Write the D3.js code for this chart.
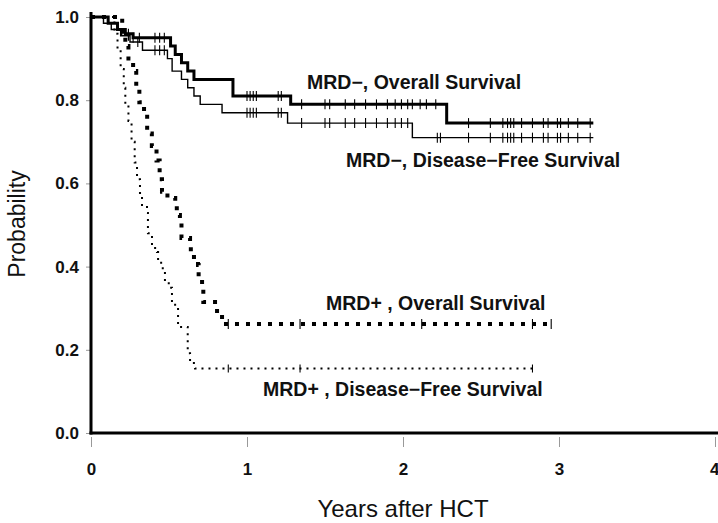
<!DOCTYPE html>
<html>
<head>
<meta charset="utf-8">
<script src="https://cdn.jsdelivr.net/npm/d3@7"></script>
<style>
  body { margin: 0; background: #fff; }
  svg { display: block; font-family: "Liberation Sans", Arial, Helvetica, sans-serif; }
</style>
</head>
<body>
<div id="chart"></div>
<script>
const width = 718;
const height = 523;

// Kaplan-Meier step curves: event times (years) and survival after each step
const negOsTimes = [0, 0.11, 0.17, 0.22, 0.27, 0.51, 0.54, 0.58, 0.62, 0.66, 0.91, 1.28, 2.28];
const negOsSurv  = [1.0, 0.985, 0.97, 0.96, 0.95, 0.93, 0.91, 0.89, 0.87, 0.85, 0.81, 0.79, 0.745];
const negOsEnd = 3.22;
const negOsCensor = [0.24, 0.27, 0.31, 0.41, 0.44, 0.47, 1.00, 1.02, 1.04, 1.06, 1.20, 1.22, 1.35, 1.50, 1.53,
  1.63, 1.69, 1.76, 1.83, 1.90, 1.95, 1.99, 2.03, 2.06, 2.11, 2.15, 2.21, 2.42, 2.56, 2.64, 2.67, 2.69,
  2.71, 2.76, 2.83, 2.90, 2.93, 2.99, 3.01, 3.06, 3.12, 3.20];

const negDfsTimes = [0, 0.08, 0.13, 0.19, 0.25, 0.33, 0.49, 0.52, 0.58, 0.62, 0.66, 0.70, 0.84, 1.26, 2.06];
const negDfsSurv  = [1.0, 0.985, 0.97, 0.955, 0.94, 0.92, 0.90, 0.87, 0.85, 0.83, 0.81, 0.79, 0.77, 0.745, 0.71];
const negDfsEnd = 3.22;
const negDfsCensor = [0.24, 0.30, 0.41, 0.44, 0.47, 1.00, 1.02, 1.04, 1.06, 1.20, 1.22, 1.35, 1.50, 1.53,
  1.63, 1.69, 1.76, 1.83, 1.90, 1.95, 1.99, 2.03, 2.22, 2.24, 2.42, 2.56, 2.64, 2.67, 2.69,
  2.71, 2.76, 2.83, 2.90, 2.93, 2.99, 3.01, 3.06, 3.12, 3.20];

const posOsTimes = [0, 0.20, 0.22, 0.24, 0.27, 0.29, 0.31, 0.34, 0.36, 0.39, 0.42, 0.44, 0.455, 0.49, 0.54,
  0.55, 0.57, 0.58, 0.635, 0.64, 0.686, 0.69, 0.712, 0.72, 0.808, 0.84];
const posOsSurv  = [1.0, 0.96, 0.93, 0.90, 0.87, 0.83, 0.795, 0.76, 0.72, 0.69, 0.655, 0.61, 0.58, 0.565, 0.548,
  0.524, 0.505, 0.469, 0.457, 0.423, 0.404, 0.373, 0.349, 0.315, 0.288, 0.262];
const posOsEnd = 2.96;
const posOsCensor = [0.88, 1.34, 2.12, 2.83, 2.95];

const posDfsTimes = [0, 0.15, 0.17, 0.19, 0.21, 0.22, 0.24, 0.26, 0.28, 0.295, 0.314, 0.327, 0.359, 0.365,
  0.391, 0.423, 0.43, 0.46, 0.474, 0.506, 0.519, 0.558, 0.62, 0.635, 0.667];
const posDfsSurv  = [1.0, 0.96, 0.92, 0.875, 0.83, 0.79, 0.75, 0.70, 0.65, 0.61, 0.577, 0.548, 0.529, 0.48,
  0.445, 0.435, 0.409, 0.392, 0.36, 0.349, 0.308, 0.255, 0.192, 0.168, 0.155];
const posDfsEnd = 2.83;
const posDfsCensor = [0.88, 1.34, 2.83];

const xTicks = [0, 1, 2, 3, 4];
const yTicks = [0, 0.2, 0.4, 0.6, 0.8, 1.0];

const curves = [
  { times: negDfsTimes, surv: negDfsSurv, end: negDfsEnd, censor: negDfsCensor, width: 1.4, dash: null, tick: 5 },
  { times: negOsTimes, surv: negOsSurv, end: negOsEnd, censor: negOsCensor, width: 3, dash: null, tick: 5 },
  { times: posDfsTimes, surv: posDfsSurv, end: posDfsEnd, censor: posDfsCensor, width: 2, dash: "2,5", tick: 4 },
  { times: posOsTimes, surv: posOsSurv, end: posOsEnd, censor: posOsCensor, width: 4, dash: "4,7", tick: 5 }
];

const labels = [
  { text: "MRD\u2212, Overall Survival", x: 307, y: 89 },
  { text: "MRD\u2212, Disease\u2212Free Survival", x: 346, y: 167 },
  { text: "MRD+ , Overall Survival", x: 326, y: 310 },
  { text: "MRD+ , Disease\u2212Free Survival", x: 263, y: 396 }
];

const x = d3.scaleLinear().domain([0, 4]).range([91, 715]);
const y = d3.scaleLinear().domain([0, 1]).range([433, 17]);

const svg = d3.select("#chart").append("svg")
    .attr("width", width)
    .attr("height", height);

// axes
const xAxis = svg.append("g")
    .attr("transform", "translate(0," + y(0) + ")")
    .call(d3.axisBottom(x).tickValues(xTicks).tickFormat(d3.format("d")).tickSize(14).tickPadding(16));
xAxis.select(".domain").remove();
xAxis.selectAll(".tick line").attr("stroke", "#999").attr("y1", 4);
xAxis.selectAll(".tick text")
    .attr("font-size", 17).attr("font-weight", "bold").attr("fill", "#111")
    .attr("text-anchor", d => d === 4 ? "end" : "middle")
    .attr("dx", d => d === 4 ? 4 : 0);

const yAxis = svg.append("g")
    .attr("transform", "translate(" + x(0) + ",0)")
    .call(d3.axisLeft(y).tickValues(yTicks).tickFormat(d3.format(".1f")).tickSize(5).tickPadding(7));
yAxis.select(".domain").remove();
yAxis.selectAll(".tick line").attr("stroke", "#999");
yAxis.selectAll(".tick text")
    .attr("font-size", 17).attr("font-weight", "bold").attr("fill", "#111");

svg.append("line")
    .attr("x1", x(0)).attr("x2", x(0))
    .attr("y1", 12).attr("y2", y(0) + 1.5)
    .attr("stroke", "#000").attr("stroke-width", 3);
svg.append("line")
    .attr("x1", x(0) - 1.5).attr("x2", 718)
    .attr("y1", y(0)).attr("y2", y(0))
    .attr("stroke", "#000").attr("stroke-width", 3);

// curves
const line = d3.line()
    .x(d => x(d[0]))
    .y(d => y(d[1]))
    .curve(d3.curveStepAfter);

curves.forEach(c => {
  const pts = c.times.map((t, i) => [t, c.surv[i]]);
  pts.push([c.end, c.surv[c.surv.length - 1]]);
  const survAt = t => {
    let s = c.surv[0];
    c.times.forEach((tt, i) => { if (tt <= t) s = c.surv[i]; });
    return s;
  };
  svg.append("path")
      .attr("d", line(pts))
      .attr("fill", "none")
      .attr("stroke", "#000")
      .attr("stroke-width", c.width)
      .attr("stroke-dasharray", c.dash);
  svg.append("g").selectAll("line")
      .data(c.censor)
      .enter()
      .append("line")
      .attr("x1", d => x(d)).attr("x2", d => x(d))
      .attr("y1", d => y(survAt(d)) - c.tick)
      .attr("y2", d => y(survAt(d)) + c.tick)
      .attr("stroke", "#000")
      .attr("stroke-width", 1.1);
});

// curve labels
svg.append("g").selectAll("text")
    .data(labels)
    .enter()
    .append("text")
    .attr("x", d => d.x)
    .attr("y", d => d.y)
    .attr("font-size", 19.5)
    .attr("font-weight", "bold")
    .attr("fill", "#111")
    .text(d => d.text);

// axis titles
svg.append("text")
    .attr("x", 403).attr("y", 517)
    .attr("text-anchor", "middle")
    .attr("font-size", 24)
    .attr("fill", "#111")
    .text("Years after HCT");

svg.append("text")
    .attr("transform", "translate(25,224) rotate(-90)")
    .attr("text-anchor", "middle")
    .attr("font-size", 23)
    .attr("fill", "#111")
    .text("Probability");
</script>
</body>
</html>
